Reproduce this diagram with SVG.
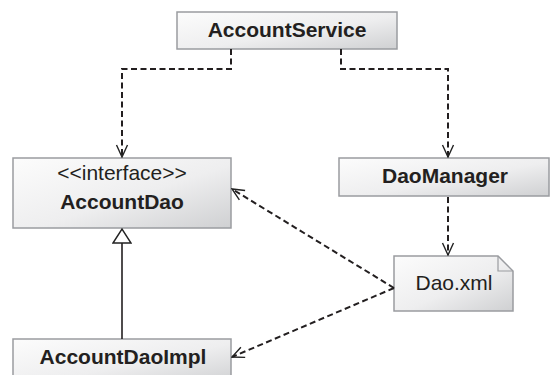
<svg xmlns="http://www.w3.org/2000/svg" width="554" height="375" viewBox="0 0 554 375">
<defs>
<linearGradient id="g" x1="0" y1="0" x2="1" y2="1">
<stop offset="0" stop-color="#fcfcfc"/>
<stop offset="0.55" stop-color="#eeeeef"/>
<stop offset="1" stop-color="#cfd0d2"/>
</linearGradient>
<marker id="open" viewBox="0 0 14 14" refX="13" refY="7" markerWidth="14" markerHeight="14" markerUnits="userSpaceOnUse" orient="auto">
<path d="M1,1.5 L13,7 L1,12.5" fill="none" stroke="#222" stroke-width="1.4"/>
</marker>
<marker id="tri" viewBox="0 0 16 20" refX="15" refY="10" markerWidth="16" markerHeight="20" markerUnits="userSpaceOnUse" orient="auto">
<path d="M1,1 L15,10 L1,19 Z" fill="#fff" stroke="#222" stroke-width="1.4"/>
</marker>
</defs>
<style>
.box{fill:url(#g);stroke:#9a9ca0;stroke-width:1.5}
.b{font-family:"Liberation Sans",Arial,sans-serif;font-weight:bold;font-size:21px;fill:#231f20;text-anchor:middle}
.r{font-family:"Liberation Sans",Arial,sans-serif;font-size:21px;fill:#231f20;text-anchor:middle}
.dep{fill:none;stroke:#231f20;stroke-width:2;stroke-dasharray:6,3.5;marker-end:url(#open)}
.gen{fill:none;stroke:#231f20;stroke-width:1.6;marker-end:url(#tri)}
</style>
<g id="AccountService">
<rect class="box" x="177" y="12" width="220" height="37"/>
<text class="b" x="287" y="37">AccountService</text>
</g>
<g id="AccountDao">
<rect class="box" x="13" y="158" width="218" height="70"/>
<text class="r" x="122" y="180">&lt;&lt;interface&gt;&gt;</text>
<text class="b" x="122" y="209">AccountDao</text>
</g>
<g id="DaoManager">
<rect class="box" x="339" y="158" width="210" height="38"/>
<text class="b" x="445" y="183">DaoManager</text>
</g>
<g id="Dao.xml">
<path class="box" d="M394,256 H498 L513,271 V311 H394 Z"/>
<path d="M498,256 V271 H513" fill="none" stroke="#9a9ca0" stroke-width="1.2"/>
<text class="r" x="454" y="290">Dao.xml</text>
</g>
<g id="AccountDaoImpl">
<rect class="box" x="13" y="339" width="218" height="45"/>
<text class="b" x="123" y="364">AccountDaoImpl</text>
</g>
<g id="connectors">
<path class="dep" d="M231,49 V69 H122 V157"/>
<path class="dep" d="M341,49 V69 H448 V157"/>
<path class="dep" d="M448,197 V255"/>
<path class="dep" d="M394,288 L232,189"/>
<path class="dep" d="M394,288 L232,357"/>
<path class="gen" d="M122,339 V229"/>
</g>
</svg>
